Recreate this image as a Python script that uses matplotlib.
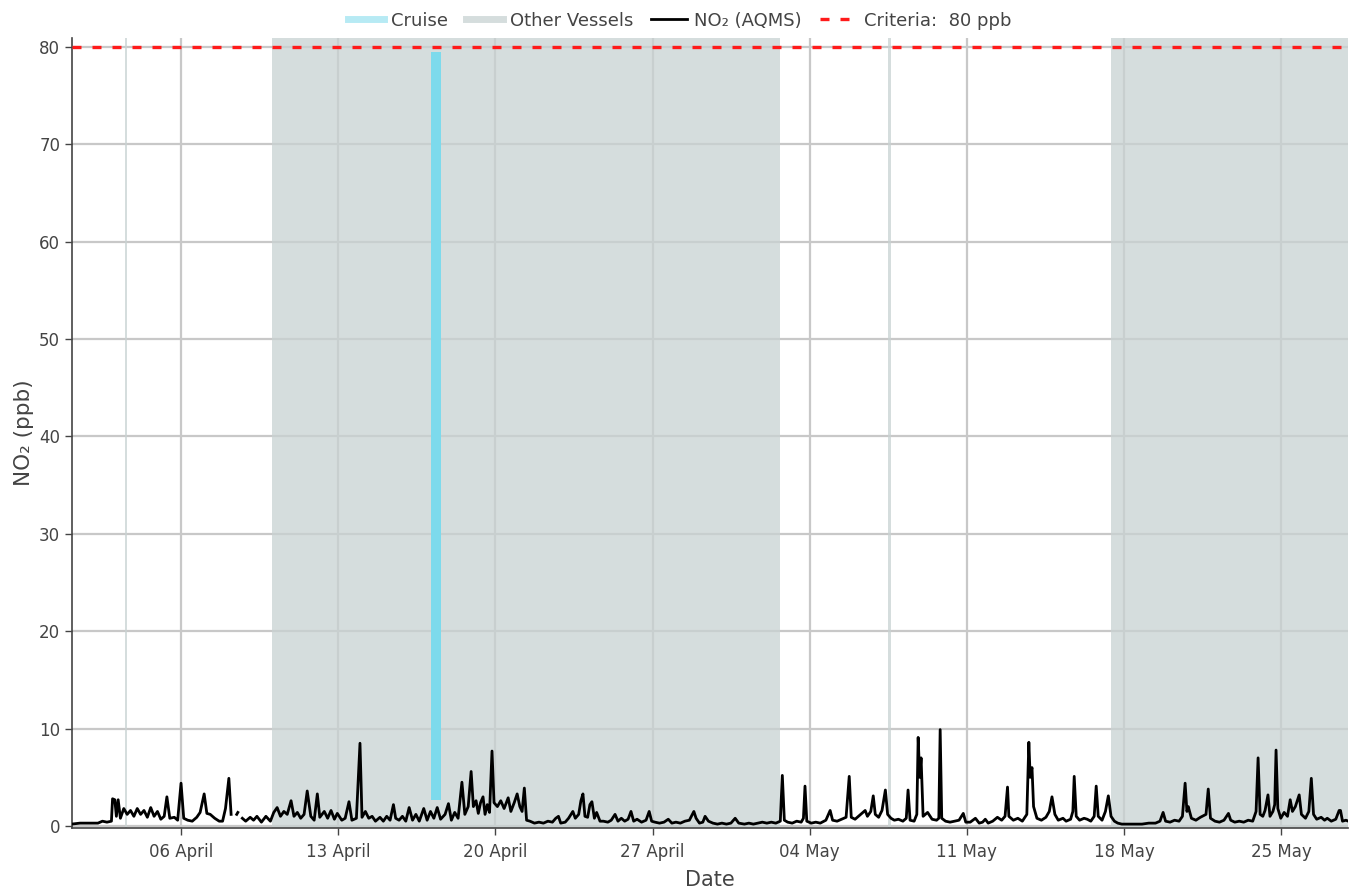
import datetime as dt
import numpy as np
import matplotlib
matplotlib.use("Agg")
import matplotlib.pyplot as plt
import matplotlib.dates as mdates
from matplotlib.lines import Line2D

# --- data (days since 01 April, NO2 in ppb) ---
no2_days = [
    0.12, 0.5, 0.9, 1.3, 1.5, 1.7, 1.9, 1.95, 2.05, 2.12, 2.2, 2.3, 2.45, 2.6, 2.75, 2.9,
    3.05, 3.2, 3.35, 3.5, 3.65, 3.8, 3.95, 4.1, 4.25, 4.37, 4.5, 4.7, 4.85, 5.0, 5.12, 5.3,
    5.5, 5.7, 5.85, 6.03, 6.15, 6.3, 6.5, 6.7, 6.85, 6.98, 7.13, 7.23, 7.33, 7.48, 7.53, 7.63,
    7.73, 7.88, 8.08, 8.23, 8.38, 8.58, 8.78, 8.98, 9.13, 9.28, 9.43, 9.58, 9.73, 9.9, 10.03, 10.18,
    10.33, 10.48, 10.62, 10.78, 10.93, 11.07, 11.18, 11.38, 11.53, 11.68, 11.83, 11.96, 12.16, 12.31,
    12.48, 12.61, 12.81, 12.97, 13.06, 13.21, 13.36, 13.51, 13.66, 13.86, 14.01, 14.16, 14.31, 14.46,
    14.56, 14.71, 14.86, 15.01, 15.16, 15.31, 15.46, 15.61, 15.81, 15.96, 16.11, 16.26, 16.41, 16.56,
    16.76, 16.91, 17.04, 17.19, 17.34, 17.51, 17.64, 17.79, 17.92, 18.02, 18.14, 18.24, 18.34, 18.45,
    18.54, 18.64, 18.74, 18.85, 18.94, 19.09, 19.24, 19.39, 19.57, 19.69, 19.84, 19.97, 20.09, 20.19,
    20.29, 20.39, 20.54, 20.74, 20.94, 21.14, 21.34, 21.54, 21.69, 21.81, 21.91, 22.11, 22.26, 22.45,
    22.56, 22.71, 22.81, 22.9, 22.99, 23.11, 23.21, 23.3, 23.41, 23.51, 23.66, 23.81, 24.01, 24.16,
    24.33, 24.46, 24.61, 24.76, 24.91, 25.04, 25.16, 25.31, 25.51, 25.71, 25.85, 25.96, 26.11, 26.31,
    26.51, 26.7, 26.86, 27.04, 27.24, 27.44, 27.64, 27.84, 27.94, 28.09, 28.24, 28.34, 28.49, 28.69,
    28.89, 29.09, 29.29, 29.49, 29.68, 29.84, 30.09, 30.29, 30.49, 30.69, 30.89, 31.09, 31.29, 31.49,
    31.69, 31.78, 31.87, 32.02, 32.22, 32.42, 32.62, 32.72, 32.79, 32.87, 33.07, 33.27, 33.47, 33.72,
    33.91, 34.02, 34.22, 34.42, 34.62, 34.76, 34.85, 35.02, 35.17, 35.32, 35.47, 35.57, 35.72, 35.83,
    35.92, 36.07, 36.22, 36.37, 36.47, 36.62, 36.77, 36.95, 37.15, 37.3, 37.38, 37.47, 37.65, 37.77,
    37.83, 37.9, 37.96, 38.05, 38.25, 38.45, 38.65, 38.75, 38.81, 38.88, 39.05, 39.25, 39.45, 39.65,
    39.84, 39.95, 40.15, 40.38, 40.55, 40.7, 40.82, 40.95, 41.15, 41.36, 41.55, 41.7, 41.81, 41.87,
    42.07, 42.27, 42.47, 42.67, 42.76, 42.82, 42.9, 42.97, 43.12, 43.32, 43.52, 43.67, 43.79, 43.92,
    44.07, 44.28, 44.42, 44.62, 44.72, 44.78, 44.87, 45.02, 45.22, 45.36, 45.52, 45.67, 45.76, 45.85,
    46.02, 46.17, 46.3, 46.42, 46.57, 46.72, 46.9, 47.2, 47.5, 47.8, 48.1, 48.4, 48.6, 48.74,
    48.85, 49.05, 49.25, 49.45, 49.6, 49.72, 49.8, 49.86, 50.0, 50.2, 50.4, 50.65, 50.75, 50.85,
    51.05, 51.25, 51.45, 51.65, 51.75, 51.93, 52.13, 52.33, 52.53, 52.73, 52.88, 52.97, 53.06, 53.18,
    53.28, 53.41, 53.5, 53.63, 53.71, 53.77, 53.85, 53.98, 54.13, 54.28, 54.4, 54.5, 54.63, 54.8,
    54.9, 55.08, 55.23, 55.34, 55.44, 55.58, 55.78, 55.93, 56.05, 56.23, 56.43, 56.58, 56.64, 56.73,
    56.88, 56.99,
]
no2_ppb = [
    0.2, 0.3, 0.3, 0.3, 0.5, 0.4, 0.5, 2.8, 2.7, 1.0, 2.7, 0.8, 1.8, 1.2, 1.6, 1.0,
    1.8, 1.2, 1.6, 0.9, 1.9, 1.0, 1.5, 0.7, 1.0, 3.0, 0.8, 0.9, 0.6, 4.4, 0.8, 0.6,
    0.5, 0.9, 1.4, 3.3, 1.3, 1.2, 0.8, 0.5, 0.5, 1.8, 4.9, 1.2, None, 1.2, 1.4, None,
    0.8, 0.5, 0.9, 0.6, 1.0, 0.4, 1.0, 0.5, 1.4, 1.9, 1.0, 1.5, 1.2, 2.6, 1.0, 1.4,
    0.8, 1.2, 3.6, 1.0, 0.6, 3.3, 0.9, 1.5, 0.8, 1.6, 0.7, 1.3, 0.6, 0.8,
    2.5, 0.6, 0.8, 8.5, 0.9, 1.5, 0.8, 1.0, 0.5, 0.9, 0.5, 1.0, 0.6, 2.2,
    0.8, 0.6, 1.0, 0.5, 1.9, 0.6, 1.2, 0.5, 1.8, 0.6, 1.5, 0.8, 1.9, 0.7,
    1.2, 2.3, 0.6, 1.4, 0.8, 4.5, 1.2, 2.0, 5.6, 2.0, 2.6, 1.3, 2.4, 3.0,
    1.2, 2.2, 1.4, 7.7, 2.4, 2.0, 2.6, 1.8, 2.9, 1.5, 2.4, 3.3, 2.0, 1.5,
    3.9, 0.6, 0.5, 0.3, 0.4, 0.3, 0.5, 0.4, 0.8, 1.0, 0.3, 0.4, 0.8, 1.5,
    0.8, 1.2, 2.6, 3.3, 1.0, 0.9, 2.2, 2.5, 0.8, 1.4, 0.5, 0.5, 0.4, 0.6,
    1.2, 0.5, 0.8, 0.5, 0.7, 1.5, 0.5, 0.7, 0.4, 0.6, 1.5, 0.5, 0.4, 0.3,
    0.4, 0.7, 0.3, 0.4, 0.3, 0.5, 0.6, 1.5, 0.8, 0.3, 0.4, 1.0, 0.5, 0.3,
    0.2, 0.3, 0.2, 0.3, 0.8, 0.3, 0.2, 0.3, 0.2, 0.3, 0.4, 0.3, 0.4, 0.3,
    0.5, 5.2, 0.6, 0.4, 0.3, 0.5, 0.4, 0.8, 4.1, 0.5, 0.3, 0.4, 0.3, 0.6,
    1.6, 0.6, 0.5, 0.7, 0.9, 5.1, 0.9, 0.7, 1.0, 1.3, 1.6, 1.0, 1.5, 3.1,
    1.2, 0.9, 1.6, 3.7, 1.2, 0.8, 0.6, 0.7, 0.5, 0.8, 3.7, 0.6, 0.5, 1.2,
    9.1, 5.0, 7.0, 1.0, 1.4, 0.7, 0.6, 0.8, 9.9, 0.8, 0.5, 0.4, 0.5, 0.6,
    1.3, 0.4, 0.4, 0.8, 0.3, 0.4, 0.7, 0.3, 0.5, 0.9, 0.6, 1.0, 4.0, 1.0,
    0.6, 0.8, 0.5, 1.2, 8.6, 5.0, 6.0, 2.0, 0.8, 0.6, 0.9, 1.5, 3.0, 1.2,
    0.6, 0.8, 0.5, 0.7, 1.5, 5.1, 1.0, 0.6, 0.8, 0.7, 0.5, 1.0, 4.1, 1.0,
    0.6, 1.5, 3.1, 1.0, 0.5, 0.3, 0.2, 0.2, 0.2, 0.2, 0.3, 0.3, 0.5, 1.4,
    0.5, 0.4, 0.6, 0.5, 1.0, 4.4, 1.5, 2.0, 0.8, 0.6, 0.9, 1.2, 3.8, 0.8,
    0.5, 0.4, 0.6, 1.3, 0.6, 0.4, 0.5, 0.4, 0.6, 0.5, 1.5, 7.0, 1.2, 1.0,
    1.6, 3.2, 1.0, 1.5, 2.2, 7.8, 1.8, 0.8, 1.4, 1.0, 2.7, 1.5, 2.0, 3.2,
    1.2, 0.8, 1.5, 4.9, 1.2, 0.7, 0.9, 0.6, 0.8, 0.5, 0.7, 1.6, 1.6, 0.5,
    0.6, 0.5,
]

# vessel presence (days since 01 April)
other_start = [2.51, 9.05, 36.47, 46.43]
other_end = [2.59, 31.68, 36.63, 56.98]
cruise_day = 16.36
cruise_low, cruise_high = 2.7, 79.5
criteria = 80

start = dt.datetime(2020, 4, 1)
def to_date(d):
    return start + dt.timedelta(days=d)

times = [to_date(d) for d in no2_days]
values = np.array([np.nan if v is None else v for v in no2_ppb])

fig = plt.figure(figsize=(13.59, 8.91), dpi=100)
ax = fig.add_axes([0.053, 0.0707, 0.939, 0.8867])

ax.grid(True, color='#c8c8c8', linewidth=1.6, zorder=0)
ax.set_axisbelow(True)

for s, e in zip(other_start, other_end):
    ax.axvspan(to_date(s), to_date(e), color='#c8d2d2', alpha=0.75, lw=0, zorder=1)

ax.plot([to_date(cruise_day)] * 2, [cruise_low, cruise_high], color='#7ddaec',
        lw=7.2, solid_capstyle='butt', zorder=2)

ax.plot(times, values, color='black', lw=2.0, zorder=3)
ax.axhline(criteria, color='#ff1a1a', lw=2.4, dashes=(2.7, 3.3), zorder=4)

ax.set_xlim(to_date(0.145), to_date(56.98))
ax.set_ylim(-0.2, 80.9)
ax.set_yticks(range(0, 81, 10))
ax.xaxis.set_major_locator(mdates.WeekdayLocator(byweekday=mdates.MO))
ax.xaxis.set_major_formatter(mdates.DateFormatter('%d %B'))

for side in ['top', 'right']:
    ax.spines[side].set_visible(False)
for side in ['left', 'bottom']:
    ax.spines[side].set_color('#444444')
    ax.spines[side].set_linewidth(1.2)
ax.tick_params(axis='both', colors='#444444', labelsize=12, length=5, width=1,
               labelcolor='#444444')
ax.tick_params(axis='x', pad=6)

ax.set_xlabel('Date', fontsize=15, color='#444444', labelpad=6)
ax.set_ylabel('NO₂ (ppb)', fontsize=15.5, color='#444444', labelpad=4)

handles = [
    Line2D([], [], color='#7ddaec', alpha=0.55, lw=5),
    Line2D([], [], color='#c8d2d2', alpha=0.75, lw=5),
    Line2D([], [], color='black', lw=2),
    Line2D([], [], color='#ff1a1a', lw=2.4, dashes=(2.7, 3.3)),
]
labels = ['Cruise', 'Other Vessels', 'NO₂ (AQMS)', 'Criteria:  80 ppb']
leg = fig.legend(handles, labels, loc='upper center', bbox_to_anchor=(0.5, 1.005),
                 ncol=4, frameon=False, fontsize=13, handlelength=2.0,
                 handletextpad=0.4, columnspacing=1.0)
for t in leg.get_texts():
    t.set_color('#444444')

fig.savefig('out.png', dpi=100)
